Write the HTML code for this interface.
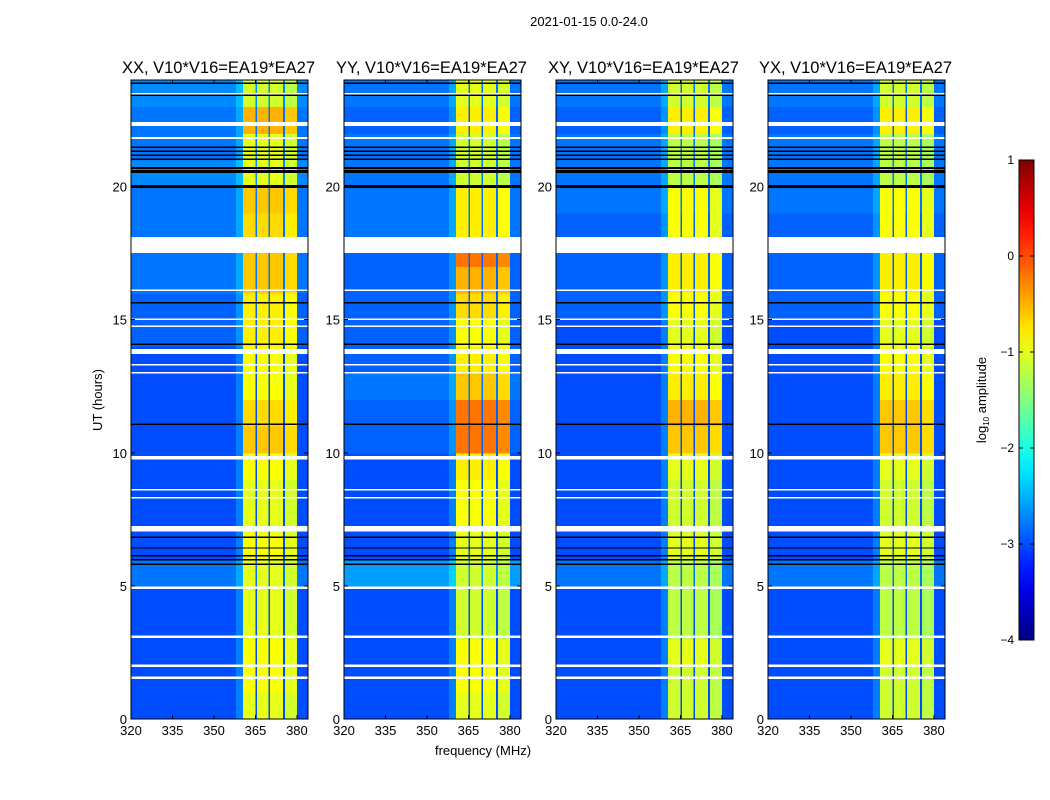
<!DOCTYPE html>
<html><head><meta charset="utf-8"><style>
html,body{margin:0;padding:0;background:#fff;}
svg{display:block;font-family:"Liberation Sans","DejaVu Sans",sans-serif;}
</style></head><body>
<svg id="fig" width="1050" height="800" viewBox="0 0 1050 800" xmlns="http://www.w3.org/2000/svg">
<text x="589" y="26" font-size="13" text-anchor="middle">2021-01-15 0.0-24.0</text>
<text x="483" y="755" font-size="13" text-anchor="middle">frequency (MHz)</text>
<text transform="translate(102,400) rotate(-90)" font-size="13" text-anchor="middle">UT (hours)</text>
<g id="panels"></g>
<g id="cbar"></g>
</svg>
<script>
const panelTitles = ["XX, V10*V16=EA19*EA27","YY, V10*V16=EA19*EA27","XY, V10*V16=EA19*EA27","YX, V10*V16=EA19*EA27"];
const xTicks = [320,335,350,365,380];
const yTicks = [0,5,10,15,20];
const cbTicks = [1,0,-1,-2,-3,-4];
const bandStarts = [360.5,365.6,370.3,375.6];
const bandEnds = [365.0,369.8,375.0,380.0];
const bandOffsets = [0.0,0.0,0.0,-0.1];
const bandXX = [-1.0,-0.9,-0.9,-1.0,-1.0,-1.0,-0.9,-1.0,-1.0,-0.9,-0.6,-0.7,-0.9,-0.9,-0.8,-0.8,-0.6,-0.6,-0.7,-0.6,-1.0,-1.0,-0.5,-1.1];
const bandYY = [-1.0,-0.9,-0.9,-1.1,-1.1,-1.1,-1.0,-0.9,-0.9,-0.8,-0.2,-0.2,-0.6,-0.8,-0.9,-0.7,-0.5,-0.2,-0.8,-0.8,-1.1,-1.1,-0.8,-1.0];
const bandXY = [-1.1,-1.1,-1.0,-1.2,-1.2,-1.2,-1.0,-1.1,-1.1,-1.0,-0.6,-0.5,-0.8,-0.9,-1.0,-0.9,-0.8,-0.8,-0.9,-0.9,-1.2,-1.2,-0.8,-1.1];
const bandYX = [-1.1,-1.1,-1.0,-1.2,-1.2,-1.2,-1.0,-1.1,-1.1,-1.0,-0.6,-0.6,-0.8,-0.9,-1.0,-0.9,-0.8,-0.8,-0.9,-0.9,-1.2,-1.2,-0.8,-1.1];
const bgXX = [-3.0,-3.0,-3.0,-3.0,-3.0,-2.8,-3.0,-3.0,-3.0,-3.0,-3.0,-3.0,-3.0,-3.0,-2.9,-2.9,-2.8,-2.8,-2.8,-2.8,-2.7,-2.8,-2.8,-2.7];
const bgYY = [-3.0,-3.0,-3.0,-3.0,-3.0,-2.6,-3.0,-3.0,-3.0,-3.0,-2.9,-2.9,-2.8,-2.9,-2.9,-2.9,-2.9,-2.9,-2.8,-2.8,-2.8,-2.8,-2.9,-2.8];
const bgXY = [-3.0,-3.0,-3.0,-3.0,-3.0,-2.8,-3.0,-3.0,-3.0,-3.0,-3.0,-3.0,-3.0,-3.0,-3.0,-2.9,-2.9,-2.9,-2.9,-2.8,-2.8,-2.8,-2.9,-2.8];
const bgYX = [-3.0,-3.0,-3.0,-3.0,-3.0,-2.8,-3.0,-3.0,-3.0,-3.0,-3.0,-3.0,-3.0,-3.0,-3.0,-2.9,-2.9,-2.9,-2.9,-2.8,-2.8,-2.8,-2.9,-2.8];
const whiteStart = [1.5,1.95,3.05,4.88,7.05,8.28,8.58,9.75,12.98,13.28,13.7,14.72,14.98,16.08,17.5,21.78,22.28,23.45];
const whiteLen   = [0.1,0.1,0.08,0.1,0.2,0.06,0.06,0.12,0.06,0.06,0.2,0.06,0.06,0.06,0.6,0.08,0.14,0.06];
const blackStart = [5.78,5.95,6.1,6.4,6.8,11.05,14.05,15.6,19.95,20.5,20.65,21.0,21.15,21.3,21.45,23.4,23.85];
const blackLen   = [0.06,0.06,0.06,0.05,0.05,0.05,0.06,0.06,0.1,0.12,0.08,0.05,0.05,0.05,0.05,0.05,0.05];
const bandData = [bandXX,bandYY,bandXY,bandYX];
const bgData = [bgXX,bgYY,bgXY,bgYX];

const NS="http://www.w3.org/2000/svg";
function jet(v){let t=(v+4)/5;t=Math.max(0,Math.min(1,t));
 const c=x=>Math.round(255*Math.max(0,Math.min(1,x)));
 return `rgb(${c(1.5-Math.abs(4*t-3))},${c(1.5-Math.abs(4*t-2))},${c(1.5-Math.abs(4*t-1))})`;}
function mk(tag,attrs,parent){const e=document.createElementNS(NS,tag);for(const k in attrs)e.setAttribute(k,attrs[k]);parent.appendChild(e);return e;}
const panelX=[131,344,556,768], PW=177, PT=80, PB=719;
const fMin=320,fMax=384;
const panelsG=document.getElementById('panels');
panelX.forEach((x0,p)=>{
 const xs=f=>x0+(f-fMin)/(fMax-fMin)*PW;
 const ys=h=>PB-h/24*(PB-PT);
 const g=mk('g',{'shape-rendering':'crispEdges'},panelsG);
 
 
 bgData[p].forEach((v,h)=>{
  const r=mk('rect',{x:x0,y:ys(h+1),width:PW,height:ys(h)-ys(h+1)+0.5,fill:jet(v)},g);
  
  
  const gl=mk('rect',{x:xs(358),y:ys(h+1),width:xs(360.5)-xs(358),height:ys(h)-ys(h+1)+0.5,fill:jet(v+0.25)},g);
  
  
  bandStarts.forEach((bs,b)=>{
   const br=mk('rect',{x:xs(bs),y:ys(h+1),width:xs(bandEnds[b])-xs(bs),height:ys(h)-ys(h+1)+0.5,fill:jet(bandData[p][h]+bandOffsets[b])},g);
   
   
  });
 });
 whiteStart.forEach((s,i)=>{const r=mk('rect',{x:x0,y:ys(s+whiteLen[i]),width:PW,height:ys(s)-ys(s+whiteLen[i]),fill:'#fff'},g);
  });
 blackStart.forEach((s,i)=>{const r=mk('rect',{x:x0,y:ys(s+blackLen[i]),width:PW,height:Math.max(1,ys(s)-ys(s+blackLen[i])),fill:'#000'},g);
  });
 const fr=mk('rect',{x:x0,y:PT,width:PW,height:PB-PT,fill:'none',stroke:'#000','stroke-width':1},g);
 
 xTicks.forEach(t=>{const x=xs(t);
  mk('line',{x1:x,x2:x,y1:PB,y2:PB-4,stroke:'#000'},g);mk('line',{x1:x,x2:x,y1:PT,y2:PT+4,stroke:'#000'},g);
  const tx=mk('text',{x:x,y:PB+16,'font-size':13,'text-anchor':'middle'},g);tx.textContent=t;
  });
 yTicks.forEach(t=>{const y=ys(t);
  mk('line',{x1:x0,x2:x0+4,y1:y,y2:y,stroke:'#000'},g);mk('line',{x1:x0+PW,x2:x0+PW-4,y1:y,y2:y,stroke:'#000'},g);
  const tx=mk('text',{x:x0-4,y:y+5,'font-size':13,'text-anchor':'end'},g);tx.textContent=t;
  });
 const tt=mk('text',{x:x0+PW/2-1,y:73,'font-size':16.5,'text-anchor':'middle'},g);tt.textContent=panelTitles[p];
 
});
const cb=document.getElementById('cbar');
const CT=160,CB=640,CX=1019,CW=15;
const cy=v=>CB-(v+4)/5*(CB-CT);
const defs=mk('defs',{},cb);const lg=mk('linearGradient',{id:'jetg',x1:0,y1:1,x2:0,y2:0},defs);
for(let i=0;i<=20;i++){const v=-4+i*0.25;mk('stop',{offset:(i/20),'stop-color':jet(v)},lg);}
const cr=mk('rect',{x:CX,y:CT,width:CW,height:CB-CT,fill:'url(#jetg)',stroke:'#000'},cb);

cbTicks.forEach(t=>{const y=cy(t);
 mk('line',{x1:CX,x2:CX+4,y1:y,y2:y,stroke:'#000'},cb);mk('line',{x1:CX+CW,x2:CX+CW-4,y1:y,y2:y,stroke:'#000'},cb);
 const tx=mk('text',{x:CX-5,y:y+4,'font-size':12,'text-anchor':'end'},cb);tx.textContent=t<0?'\u2212'+(-t):t;
 });
const cl=mk('text',{transform:'translate(986,400) rotate(-90)','font-size':13,'text-anchor':'middle'},cb);
cl.innerHTML='log<tspan font-size="8" dy="3">10</tspan><tspan dy="-3"> amplitude</tspan>';

</script>
</body></html>
